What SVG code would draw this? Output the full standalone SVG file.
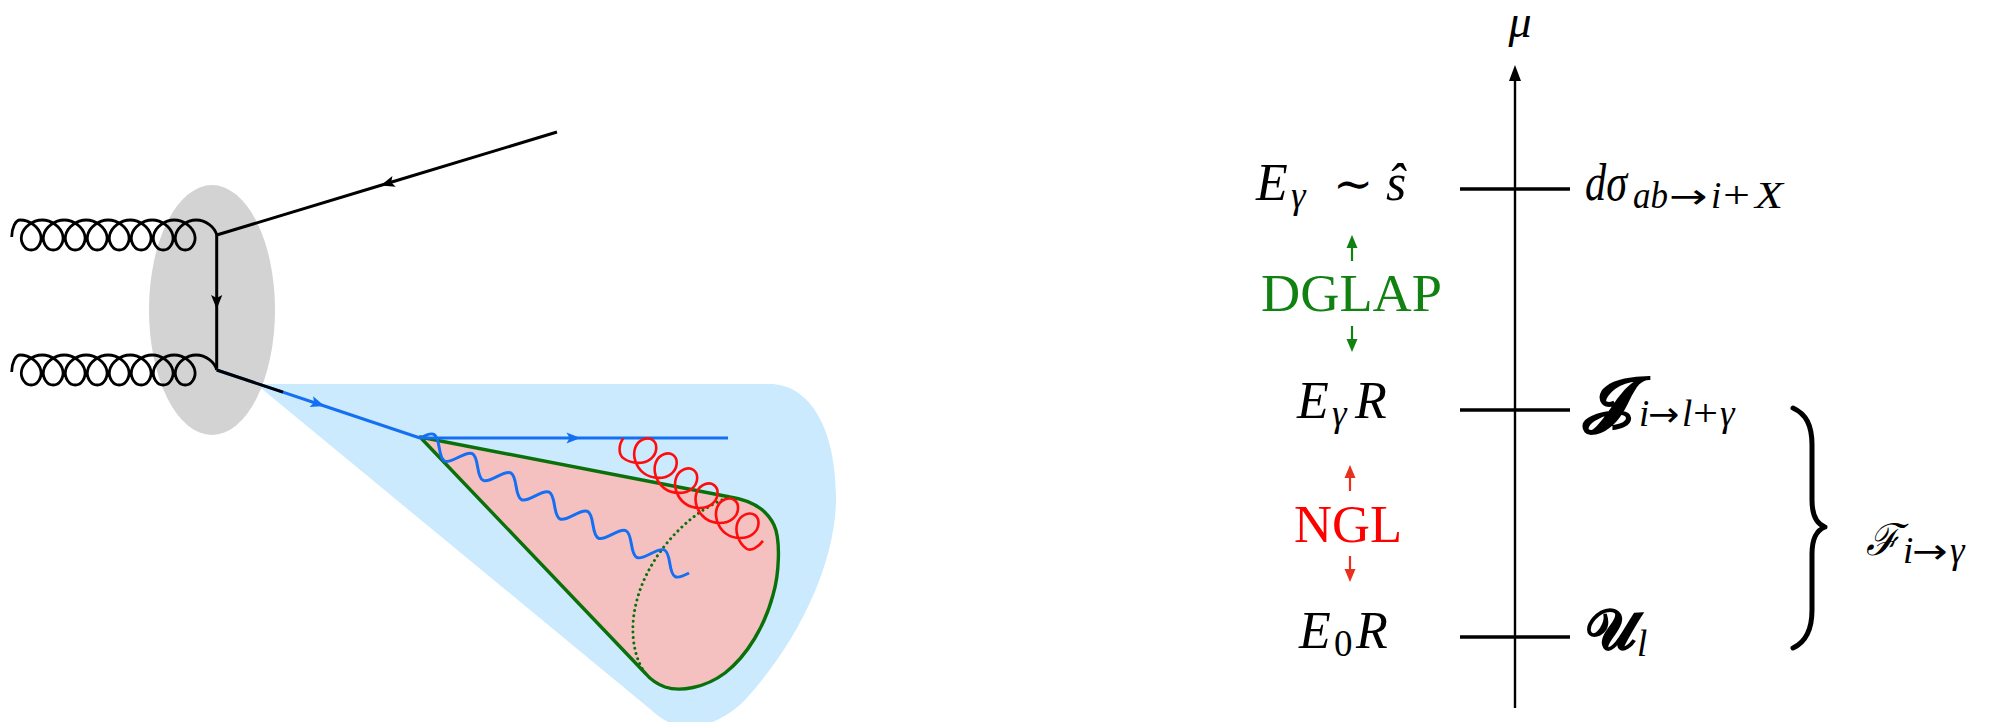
<svg xmlns="http://www.w3.org/2000/svg" width="2000" height="722" viewBox="0 0 2000 722">
  <style>
    .ln{fill:none;stroke:#000;stroke-width:3}
    .bl{fill:none;stroke:#156ff2;stroke-width:3}
    .gl{fill:none;stroke:#000;stroke-width:2.8;stroke-linejoin:round}
    .rg{fill:none;stroke:#ff0d0d;stroke-width:2.6;stroke-linejoin:round}
    .m{font-family:"Liberation Serif","DejaVu Serif",serif;font-size:52px;fill:#000}
    .i{font-style:italic}
    .s{font-size:37px}
    .ar{font-family:"DejaVu Sans",sans-serif;font-size:34px;fill:#000}
    .cal{font-family:"DejaVu Sans","DejaVu Serif","Liberation Serif",serif;font-weight:bold}
    .tick{stroke:#000;stroke-width:3.5}
  </style>
  <defs>
    <marker id="hk" markerUnits="userSpaceOnUse" orient="auto" overflow="visible" markerWidth="1" markerHeight="1">
      <path d="M6.5,0 L-7.5,-5.6 L-4.5,0 L-7.5,5.6 Z" fill="#000"/>
    </marker>
    <marker id="hb" markerUnits="userSpaceOnUse" orient="auto" overflow="visible" markerWidth="1" markerHeight="1">
      <path d="M6.5,0 L-7.5,-5.6 L-4.5,0 L-7.5,5.6 Z" fill="#156ff2"/>
    </marker>
    <!-- black gluon coil, 8 loops, from (11.7,237) to (216.7,235) -->
    <path id="coil" d="M11.7,237 C11.7,228 15.5,220 20.2,220
      c9.69,0 18.67,7.15 20.5,15 c1.83,7.85 -3.48,15 -9.5,15 c-6.02,0 -11.34,-7.15 -9.51,-15 c1.83,-7.85 10.82,-15 20.51,-15
      c9.69,0 18.67,7.15 20.5,15 c1.83,7.85 -3.48,15 -9.5,15 c-6.02,0 -11.34,-7.15 -9.51,-15 c1.83,-7.85 10.82,-15 20.51,-15
      c9.69,0 18.67,7.15 20.5,15 c1.83,7.85 -3.48,15 -9.5,15 c-6.02,0 -11.34,-7.15 -9.51,-15 c1.83,-7.85 10.82,-15 20.51,-15
      c9.69,0 18.67,7.15 20.5,15 c1.83,7.85 -3.48,15 -9.5,15 c-6.02,0 -11.34,-7.15 -9.51,-15 c1.83,-7.85 10.82,-15 20.51,-15
      c9.69,0 18.67,7.15 20.5,15 c1.83,7.85 -3.48,15 -9.5,15 c-6.02,0 -11.34,-7.15 -9.51,-15 c1.83,-7.85 10.82,-15 20.51,-15
      c9.69,0 18.67,7.15 20.5,15 c1.83,7.85 -3.48,15 -9.5,15 c-6.02,0 -11.34,-7.15 -9.51,-15 c1.83,-7.85 10.82,-15 20.51,-15
      c9.69,0 18.67,7.15 20.5,15 c1.83,7.85 -3.48,15 -9.5,15 c-6.02,0 -11.34,-7.15 -9.51,-15 c1.83,-7.85 10.82,-15 20.51,-15
      c9.69,0 18.67,7.15 20.5,15 c1.83,7.85 -3.48,15 -9.5,15 c-6.02,0 -11.34,-7.15 -9.51,-15 c1.83,-7.85 10.82,-15 20.51,-15
      c9.69,0 18.67,7.15 20.5,15"/>
  </defs>

  <!-- left: jet production picture -->
  <g id="jet-region">
    <path d="M256,384 H770 C805,384 835,420 836,495 C837,560 800,640 745,700 C725,720 700,730 680,726 C668,724 658,716 650,709 Z" fill="#cceafd"/>
  </g>
  <g id="hard-blob">
    <ellipse cx="212" cy="310" rx="63" ry="125" fill="#d3d3d3"/>
  </g>
  <g id="jet-cone">
    <path d="M420,437 L730,497 C750,500 766,508 774,525 C781,540 779,575 773,595 C765,625 748,655 725,673 C705,688 680,692 665,687 C657,684 651,680 646,674 Z" fill="#f5c0c0" stroke="#0a700a" stroke-width="3.4" stroke-linejoin="round"/>
    <path d="M727,498 C680,515 630,575 633,635 C634,650 638,662 643,670" fill="none" stroke="#0a700a" stroke-width="3" stroke-linecap="round" stroke-dasharray="0.01 5.4"/>
  </g>
  <g id="photon">
    <path class="bl" stroke-linejoin="round" transform="translate(420,438) rotate(26.65)" d="M0,0
      c9.12,-12.7 12.38,-12.7 21.5,0 c9.12,12.7 12.38,12.7 21.5,0
      c9.12,-12.7 12.38,-12.7 21.5,0 c9.12,12.7 12.38,12.7 21.5,0
      c9.12,-12.7 12.38,-12.7 21.5,0 c9.12,12.7 12.38,12.7 21.5,0
      c9.12,-12.7 12.38,-12.7 21.5,0 c9.12,12.7 12.38,12.7 21.5,0
      c9.12,-12.7 12.38,-12.7 21.5,0 c9.12,12.7 12.38,12.7 21.5,0
      c9.12,-12.7 12.38,-12.7 21.5,0 c9.12,12.7 12.38,12.7 21.5,0
      c9.12,-12.7 12.38,-12.7 21.5,0 c9.12,12.7 12.38,12.7 21.5,0"/>
  </g>
  <g id="gluons">
    <use href="#coil" class="gl"/>
    <use href="#coil" class="gl" transform="translate(0,135)"/>
  </g>
  <g id="fermion-lines">
    <path class="ln" d="M557,132 L386.85,183.5 L216.7,235" marker-mid="url(#hk)"/>
    <path class="ln" d="M216.7,235 L216.7,302.5 L216.7,370" marker-mid="url(#hk)"/>
    <path class="bl" d="M216.7,370 L318.4,404 L420,438" marker-mid="url(#hb)"/>
    <path class="ln" stroke-width="3.4" d="M216.7,370 L283,392.2"/>
    <path class="bl" d="M420,438 L574,438 L728,438" marker-mid="url(#hb)"/>
  </g>
  <g id="soft-gluon">
    <path class="rg" transform="translate(623.3,438.3) rotate(36.3) scale(1,-1) translate(12,0)" d="M-12,0 C-12,-9 -6,-16 0,-16
      c10.49,0 20.24,7.62 22.35,16 c2.12,8.38 -3.4,16 -9.66,16 c-6.26,0 -11.77,-7.62 -9.65,-16 c2.12,-8.38 11.85,-16 22.34,-16
      c10.49,0 20.24,7.62 22.35,16 c2.12,8.38 -3.4,16 -9.66,16 c-6.26,0 -11.77,-7.62 -9.65,-16 c2.12,-8.38 11.85,-16 22.34,-16
      c10.49,0 20.24,7.62 22.35,16 c2.12,8.38 -3.4,16 -9.66,16 c-6.26,0 -11.77,-7.62 -9.65,-16 c2.12,-8.38 11.85,-16 22.34,-16
      c10.49,0 20.24,7.62 22.35,16 c2.12,8.38 -3.4,16 -9.66,16 c-6.26,0 -11.77,-7.62 -9.65,-16 c2.12,-8.38 11.85,-16 22.34,-16
      c10.49,0 20.24,7.62 22.35,16 c2.12,8.38 -3.4,16 -9.66,16 c-6.26,0 -11.77,-7.62 -9.65,-16 c2.12,-8.38 11.85,-16 22.34,-16
      c10.49,0 20.24,7.62 22.35,16 c2.12,8.38 -3.4,16 -9.66,16 c-6.26,0 -11.77,-7.62 -9.65,-16 c2.12,-8.38 11.85,-16 22.34,-16
      c5.5,0 9,8 9,16"/>
  </g>

  <!-- right: scale axis -->
  <g id="scale-axis">
    <line x1="1515" y1="708" x2="1515" y2="78" stroke="#000" stroke-width="2.4"/>
    <path d="M1515,65 L1509,81 L1521,81 Z" fill="#000"/>
    <text class="m i" x="1520" y="37" text-anchor="middle" style="font-size:46px">μ</text>
  </g>
  <g id="tick-hard">
    <line class="tick" x1="1460" y1="189" x2="1570" y2="189"/>
    <text class="m" y="200"><tspan class="i" x="1256">E</tspan><tspan class="i s" x="1291" y="208">γ</tspan></text>
    <text class="m" x="1333" y="200" style="font-size:48px">∼</text>
    <text class="m i" x="1386" y="200">ŝ</text>
    <text class="m i" x="1585" y="200" textLength="42" lengthAdjust="spacingAndGlyphs">dσ</text>
    <text class="m i s" x="1633" y="208" textLength="35" lengthAdjust="spacingAndGlyphs">ab</text>
    <text class="ar" transform="translate(1669,208) scale(1.35,1)">→</text>
    <text class="m i s" x="1711" y="208">i</text>
    <text class="m s" x="1723" y="208" textLength="27" lengthAdjust="spacingAndGlyphs">+</text>
    <text class="m i s" x="1755" y="208" textLength="28" lengthAdjust="spacingAndGlyphs">X</text>
  </g>
  <g id="tick-jet">
    <line class="tick" x1="1460" y1="410" x2="1570" y2="410"/>
    <text class="m" y="418"><tspan class="i" x="1297">E</tspan><tspan class="i s" x="1332" y="426">γ</tspan><tspan class="i" x="1355" y="418">R</tspan></text>
    <text class="m cal" transform="translate(1582,420) scale(1.28,1)" style="font-size:60px">𝓙</text>
    <text class="m i s" x="1639" y="426">i</text>
    <text class="ar" transform="translate(1648,426) scale(1.1,1)">→</text>
    <text class="m i s" x="1682" y="426">l</text>
    <text class="m s" x="1693" y="426" textLength="25" lengthAdjust="spacingAndGlyphs">+</text>
    <text class="m i s" x="1720" y="426">γ</text>
  </g>
  <g id="tick-soft">
    <line class="tick" x1="1460" y1="637" x2="1570" y2="637"/>
    <text class="m" y="648"><tspan class="i" x="1299">E</tspan><tspan class="s" x="1334" y="656">0</tspan><tspan class="i" x="1356" y="648">R</tspan></text>
    <text class="m cal" x="1586" y="649" style="font-size:56px">𝓤</text>
    <text class="m i s" x="1637" y="656">l</text>
  </g>
  <g id="dglap">
    <text class="m" x="1261" y="311" style="fill:#118211" textLength="181" lengthAdjust="spacingAndGlyphs">DGLAP</text>
  </g>
  <g id="ngl">
    <text class="m" x="1294" y="542" style="fill:#ff0000" textLength="108" lengthAdjust="spacingAndGlyphs">NGL</text>
  </g>
  <g id="fragmentation">
    <path d="M1793,408 C1806,414 1812,425 1812,445 L1812,500 C1812,515 1817,524 1825,527 C1817,530 1812,539 1812,554 L1812,610 C1812,630 1806,642 1793,648" fill="none" stroke="#000" stroke-width="5" stroke-linecap="round" stroke-linejoin="round"/>
    <text class="m i" x="1866" y="555" style="font-family:'DejaVu Serif','Liberation Serif',serif;font-size:44px" textLength="34" lengthAdjust="spacingAndGlyphs">ℱ</text>
    <text class="m i s" x="1903" y="563">i</text>
    <text class="ar" transform="translate(1912,563) scale(1.25,1)">→</text>
    <text class="m i s" x="1950" y="563">γ</text>
  </g>
  <g id="connectors">
    <g stroke="#118211" stroke-width="2.2" fill="#118211">
      <line x1="1352" y1="246" x2="1352" y2="261"/>
      <path d="M1352,235 L1346.5,248 L1357.5,248 Z" stroke="none"/>
      <line x1="1352" y1="326" x2="1352" y2="341"/>
      <path d="M1352,352 L1346.5,339 L1357.5,339 Z" stroke="none"/>
    </g>
    <g stroke="#e8301e" stroke-width="2.2" fill="#e8301e">
      <line x1="1350" y1="476" x2="1350" y2="491"/>
      <path d="M1350,465 L1344.5,478 L1355.5,478 Z" stroke="none"/>
      <line x1="1350" y1="556" x2="1350" y2="571"/>
      <path d="M1350,582 L1344.5,569 L1355.5,569 Z" stroke="none"/>
    </g>
  </g>
</svg>
